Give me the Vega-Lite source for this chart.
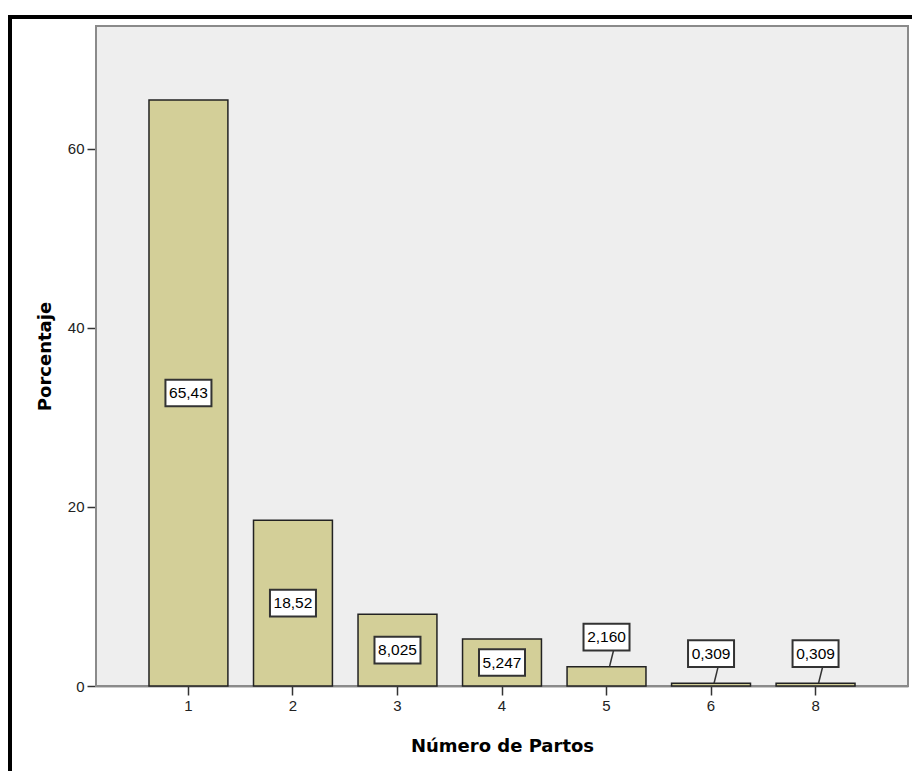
{
  "$schema": "https://vega.github.io/schema/vega-lite/v6.json",
  "autosize": {"type": "none"},
  "width": 907,
  "height": 759,
  "padding": {"left": 10, "top": 17, "right": -5, "bottom": -5},
  "background": "white",
  "config": {
    "view": {"stroke": "black", "strokeWidth": 4, "fill": "white"},
    "axis": {
      "domainColor": "#333333",
      "domainWidth": 1.5,
      "tickColor": "#333333",
      "tickWidth": 1.5,
      "tickSize": 9,
      "labelPadding": 3,
      "labelFont": "Liberation Sans",
      "labelFontSize": 15,
      "labelColor": "#222222",
      "titleFont": "DejaVu Sans",
      "titleFontSize": 18,
      "titleFontWeight": "bold",
      "titleColor": "black",
      "grid": false
    }
  },
  "data": {
    "values": [
      {"partos": "1", "porcentaje": 65.43, "etiqueta": "65,43"},
      {"partos": "2", "porcentaje": 18.52, "etiqueta": "18,52"},
      {"partos": "3", "porcentaje": 8.025, "etiqueta": "8,025"},
      {"partos": "4", "porcentaje": 5.247, "etiqueta": "5,247"},
      {"partos": "5", "porcentaje": 2.160, "etiqueta": "2,160"},
      {"partos": "6", "porcentaje": 0.309, "etiqueta": "0,309"},
      {"partos": "8", "porcentaje": 0.309, "etiqueta": "0,309"}
    ]
  },
  "transform": [
    {"calculate": "datum.porcentaje >= 4 ? datum.porcentaje / 2 : datum.porcentaje + 3.3", "as": "posEtiqueta"},
    {"calculate": "datum.posEtiqueta - 1.5", "as": "finLinea"}
  ],
  "resolve": {"scale": {"x": "independent"}, "axis": {"x": "independent"}},
  "layer": [
    {
      "data": {"values": [{"area": "plot"}]},
      "mark": {"type": "rect", "fill": "#eeeeee", "stroke": "#8a8a8a", "strokeWidth": 2},
      "encoding": {
        "x": {"datum": 0, "type": "quantitative", "scale": {"domain": [0, 1], "range": [86, 898]}, "axis": null},
        "x2": {"datum": 1},
        "y": {
          "datum": 0,
          "type": "quantitative",
          "scale": {"domain": [0, 73.7], "range": [669, 9], "nice": false, "zero": true},
          "axis": {"orient": "left", "offset": -86, "values": [0, 20, 40, 60], "title": "Porcentaje", "titlePadding": 13}
        },
        "y2": {"datum": 73.7}
      }
    },
    {
      "encoding": {
        "x": {
          "field": "partos",
          "type": "ordinal",
          "sort": ["1", "2", "3", "4", "5", "6", "8"],
          "scale": {"type": "band", "domain": ["1", "2", "3", "4", "5", "6", "8"], "range": [86, 898], "paddingInner": 0.245, "paddingOuter": 0.507},
          "axis": {"orient": "bottom", "offset": -90, "labelAngle": 0, "title": "Número de Partos", "titlePadding": 24}
        }
      },
      "layer": [
        {
          "mark": {"type": "bar", "fill": "#d3cf98", "stroke": "#222222", "strokeWidth": 1.5},
          "encoding": {
            "y": {"field": "porcentaje", "type": "quantitative"}
          }
        },
        {
          "transform": [{"filter": "datum.porcentaje < 4"}],
          "mark": {"type": "rule", "stroke": "#333333", "strokeWidth": 1.5, "xOffset": 3, "x2Offset": 7},
          "encoding": {
            "x2": {"field": "partos"},
            "y": {"field": "porcentaje", "type": "quantitative"},
            "y2": {"field": "finLinea"}
          }
        },
        {
          "mark": {"type": "point", "shape": "M-1,-0.58H1V0.58H-1Z", "size": 2116, "filled": true, "fill": "white", "stroke": "#333333", "strokeWidth": 2, "opacity": 1},
          "encoding": {
            "y": {"field": "posEtiqueta", "type": "quantitative"}
          }
        },
        {
          "mark": {"type": "text", "font": "Liberation Sans", "fontSize": 15.5, "color": "black", "align": "center", "baseline": "middle"},
          "encoding": {
            "y": {"field": "posEtiqueta", "type": "quantitative"},
            "text": {"field": "etiqueta"}
          }
        }
      ]
    }
  ]
}
